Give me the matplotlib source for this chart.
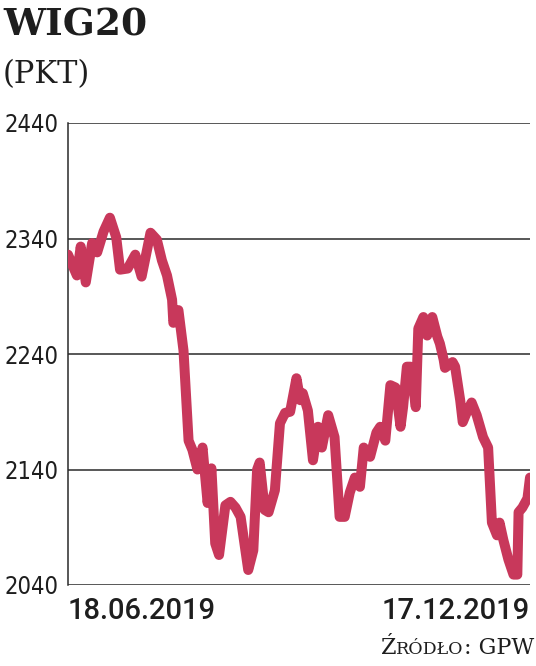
import numpy as np
import pandas as pd
import matplotlib
matplotlib.use("Agg")
import matplotlib.pyplot as plt
from matplotlib import font_manager

# WIG20 close, 18.06.2019 - 17.12.2019 (days from start, points)
days = [0, 3.5, 5, 7, 9.5, 11.5, 14, 16.5, 19, 20.5, 23.5, 26.5, 29, 32.5, 35,
        37, 39, 41, 41.5, 43.5, 45.5, 47.5, 49, 51, 53, 55, 56.5, 58, 59.5,
        62, 64, 66, 68, 71, 73, 74.5, 75.5, 77.5, 79, 81.5, 83.5, 85.5, 87.5,
        90, 91.5, 92.5, 94.5, 96.5, 98.5, 100, 102.5, 105, 107, 109, 111, 113,
        115, 116.5, 119, 121.5, 123, 125, 127, 129, 131, 132, 133.5, 135, 137,
        138, 140, 141.5, 143.5, 145.5, 146.5, 148, 148.5, 151.5, 152.5, 154.5,
        155.5, 157, 159, 161, 163.5, 165.5, 167, 169, 170, 171.5, 173.5, 175.5,
        177, 177.5, 179, 181, 182]
values = [2326, 2308, 2333, 2302, 2336, 2328, 2346, 2358, 2341, 2313, 2314,
          2326, 2307, 2345, 2339, 2321, 2308, 2287, 2267, 2278, 2243, 2165,
          2157, 2140, 2159, 2111, 2141, 2076, 2066, 2109, 2112, 2107, 2099,
          2053, 2070, 2140, 2146, 2105, 2103, 2122, 2180, 2189, 2190, 2219,
          2200, 2206, 2191, 2148, 2177, 2159, 2187, 2168, 2099, 2099, 2120,
          2133, 2125, 2159, 2151, 2172, 2177, 2165, 2213, 2211, 2177, 2194,
          2229, 2229, 2194, 2262, 2272, 2256, 2272, 2255, 2249, 2235, 2228,
          2233, 2229, 2200, 2181, 2189, 2198, 2187, 2168, 2159, 2094, 2083,
          2094, 2079, 2062, 2049, 2049, 2103, 2107, 2115, 2133]

y_ticks = [2040, 2140, 2240, 2340, 2440]
start_label = "18.06.2019"
end_label = "17.12.2019"

start = pd.Timestamp("2019-06-18")
end = pd.Timestamp("2019-12-17")
dates = start + pd.to_timedelta(days, unit="D")

LINE = "#c8385b"
INK = "#1e1e1e"
SERIF = ["DejaVu Serif"]

# narrow face for the tick numbers, whichever one is installed
fonts = font_manager.fontManager.ttflist
tick_font = dict(family="Roboto", fontsize=17)
if any(f.name == "Liberation Sans Narrow" for f in fonts):
    tick_font = dict(family="Liberation Sans Narrow", fontsize=22)
elif any(f.name == "DejaVu Sans" and f.stretch == "condensed" for f in fonts):
    tick_font = dict(family="DejaVu Sans", stretch="condensed", fontsize=17)

W, H = 536, 666
fig = plt.figure(figsize=(W / 100, H / 100), dpi=100)
ax = fig.add_axes([68 / W, 1 - 585 / H, 462 / W, 462 / H])

ax.plot(dates, values, color=LINE, lw=7.2, solid_joinstyle="round",
        solid_capstyle="round", zorder=3)

ax.set_xlim(start, end)
ax.set_ylim(2040, 2440)
ax.set_yticks(y_ticks)
ax.set_yticklabels([str(t) for t in y_ticks], color=INK, **tick_font)
ax.tick_params(axis="y", length=0, pad=7)
ax.set_xticks([])
ax.grid(axis="y", color="#2a2a2a", lw=1.1)
ax.set_axisbelow(True)
for side in ["top", "right", "bottom"]:
    ax.spines[side].set_visible(False)
ax.spines["left"].set_color("#2a2a2a")
ax.spines["left"].set_linewidth(1.1)

# date labels under the axis
fig.text(68 / W, 1 - 619 / H, start_label, ha="left", va="baseline",
         family="Roboto", weight="medium", fontsize=21, color=INK)
fig.text(530 / W, 1 - 619 / H, end_label, ha="right", va="baseline",
         family="Roboto", weight="medium", fontsize=21, color=INK)

# title
fig.text(3 / W, 1 - 35 / H, "WIG20", ha="left", va="baseline", family=SERIF,
         weight="bold", fontsize=27, color=INK)
fig.text(3 / W, 1 - 83 / H, "(PKT)", ha="left", va="baseline", family=SERIF,
         fontsize=22, color=INK)

# source line in small caps, built right to left
renderer = fig.canvas.get_renderer()
parts = [("Ź", 16), ("RÓDŁO", 12.5), (": GPW", 16)]
x = 534
for s, size in reversed(parts):
    t = fig.text(x / W, 1 - 654 / H, s, ha="right", va="baseline",
                 family=SERIF, fontsize=size, color=INK)
    x -= t.get_window_extent(renderer).width

fig.savefig("out.png", dpi=100)
